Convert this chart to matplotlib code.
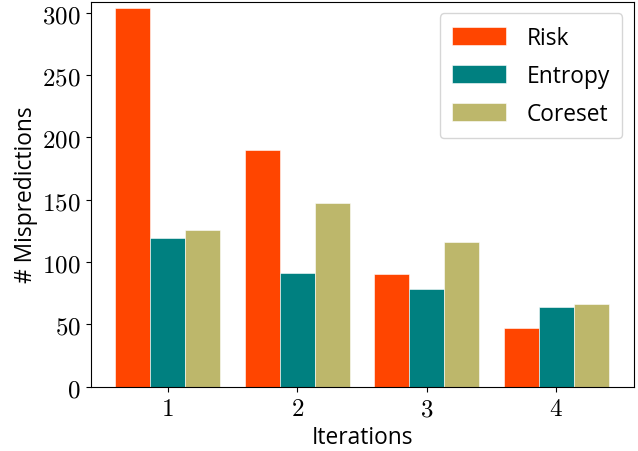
import numpy as np
import matplotlib
matplotlib.use("Agg")
import matplotlib.pyplot as plt
from matplotlib.ticker import FuncFormatter

plt.rcParams['mathtext.fontset'] = 'cm'
plt.rcParams['font.family'] = ['Open Sans', 'DejaVu Sans']

iterations = [1, 2, 3, 4]
series_names = ["Risk", "Entropy", "Coreset"]
risk = [304, 190, 90, 47]
entropy = [119, 91, 78, 64]
coreset = [126, 147, 116, 66]
colors = ["#FF4500", "#008080", "#BDB76B"]

fig = plt.figure(figsize=(6.38, 4.52), dpi=100)
ax = fig.add_axes([0.142, 0.1425, 0.851, 0.8515])

x = np.array(iterations, dtype=float)
w = 0.27
for i, (name, vals) in enumerate(zip(series_names, [risk, entropy, coreset])):
    ax.bar(x + (i - 1) * w, vals, width=w, color=colors[i], label=name,
           edgecolor='white', linewidth=0.4)

ax.set_ylim(0, 309)
ax.set_xticks(iterations)
ax.xaxis.set_major_formatter(FuncFormatter(lambda v, p: f'${v:g}$'))
ax.yaxis.set_major_formatter(FuncFormatter(lambda v, p: f'${v:g}$'))
ax.tick_params(labelsize=18)
ax.set_xlabel("Iterations", fontsize=16.4, labelpad=3)
ax.set_ylabel("# Mispredictions", fontsize=16.4, labelpad=3)

ax.legend(loc='upper right', fontsize=16.4, handlelength=2.35, handleheight=0.85,
          labelspacing=0.62, handletextpad=0.9, borderpad=0.55)

fig.savefig("out.png", dpi=100)
